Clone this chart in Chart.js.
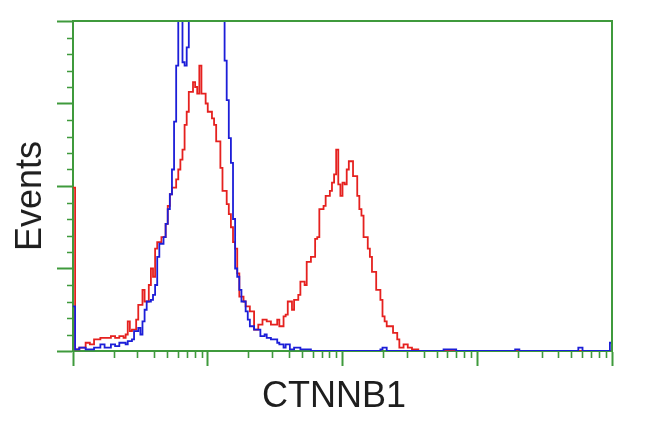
<!DOCTYPE html>
<html>
<head>
<meta charset="utf-8">
<script src="https://cdn.jsdelivr.net/npm/chart.js@4.4.1/dist/chart.umd.min.js"></script>
<style>
  body { margin: 0; background: #fff; }
  #wrap { position: relative; width: 650px; height: 432px; }
  .lbl { position: absolute; font-family: "Liberation Sans", Arial, sans-serif; font-size: 36px; line-height: 1; color: #1e1e1e; white-space: nowrap; }
  #xLabel { left: 334px; top: 395px; transform: translate(-50%, -50%); }
  #yLabel { left: 29px; top: 196px; transform: translate(-50%, -50%) rotate(-90deg); }
</style>
</head>
<body>
<div id="wrap">
  <canvas id="histo" width="650" height="432"></canvas>
  <div class="lbl" id="xLabel">CTNNB1</div>
  <div class="lbl" id="yLabel">Events</div>
</div>
<script>
// Histogram data: channel (256 channels over 4 log decades) -> event count
const redChannels = [0,1,3,6,8,10,13,15,18,20,
  22,24,25,26,27,28,30,31,33,34,
  36,37,38,39,40,42,44,45,46,47,
  49,50,51,52,53,54,55,57,58,59,
  60,61,63,64,66,67,68,70,71,73,
  74,75,76,77,78,79,81,82,84,86,
  88,90,92,94,97,98,100,101,102,104,
  105,107,108,110,111,113,115,116,117,119,
  120,122,123,124,125,126,127,128,129,130,
  131,133,135,136,137,138,140,141,142,144,
  146,147,148,149,152,154,155,157,159,161,
  164,256];
const redCounts = [99,1,2,5,4,7,8,8,9,8,
  9,8,10,18,12,13,19,28,37,30,
  40,50,45,62,66,69,77,88,95,99,
  104,110,116,122,137,145,157,163,160,156,
  173,156,150,145,141,137,127,111,97,89,
  83,75,66,62,47,33,30,27,24,13,
  16,19,18,16,19,15,21,22,30,25,
  31,34,42,40,54,57,68,69,86,88,
  94,97,102,107,122,101,94,102,101,110,
  115,106,94,86,82,69,62,57,48,37,
  31,21,18,15,11,7,2,4,2,1,
  0,0];

const blueChannels = [0,1,3,6,8,10,13,15,18,20,
  22,25,26,28,29,31,32,33,34,35,
  37,38,39,40,41,43,44,45,46,47,
  48,49,50,52,53,54,55,57,59,61,
  63,65,67,69,71,72,73,74,75,76,
  77,78,79,80,82,83,84,86,89,91,
  92,94,97,98,100,101,103,105,108,110,
  113,146,147,149,176,180,182,210,212,240,
  242,255,256];
const blueCounts = [27,1,2,1,1,2,4,2,4,3,
  5,4,6,7,12,14,10,18,25,30,
  31,34,40,57,65,69,77,86,95,110,
  139,173,240,175,173,184,250,260,245,255,
  250,240,235,225,200,176,152,129,114,80,
  50,45,37,30,24,19,15,13,9,10,
  8,7,5,4,2,4,1,2,1,1,
  0,1,2,0,1,1,0,1,0,2,
  0,5,5];

// Axis ticks
const decadeChannels = [0, 64, 128, 192, 256];
const yMajorTicks = [0, 50, 100, 150, 200];
const yMinorTicks = [10,20,30,40, 60,70,80,90, 110,120,130,140, 160,170,180,190];

const GREEN = "#3f9a3c";

function toPoints(xs, ys) {
  return xs.map((x, i) => ({ x: x, y: ys[i] }));
}

// minor log ticks (2..9 inside each decade)
const xMinorTicks = [];
for (let d = 0; d < 4; d++) {
  for (let k = 2; k <= 9; k++) xMinorTicks.push(decadeChannels[d] + 64 * Math.log10(k));
}

// Frame on top/right + minor tick marks
const framePlugin = {
  id: "frame",
  afterDraw(chart) {
    const { ctx, chartArea: a, scales: { x, y } } = chart;
    ctx.save();
    ctx.strokeStyle = GREEN;
    ctx.lineWidth = 2;
    ctx.beginPath();
    ctx.moveTo(a.left, a.top);
    ctx.lineTo(a.right, a.top);
    ctx.lineTo(a.right, a.bottom);
    ctx.stroke();

    ctx.lineWidth = 1.6;
    ctx.beginPath();
    yMinorTicks.forEach(v => {
      const py = Math.round(y.getPixelForValue(v)) + 0.5;
      ctx.moveTo(a.left - 6, py);
      ctx.lineTo(a.left, py);
    });
    xMinorTicks.forEach(v => {
      const px = Math.round(x.getPixelForValue(v)) + 0.5;
      ctx.moveTo(px, a.bottom);
      ctx.lineTo(px, a.bottom + 7);
    });
    ctx.stroke();
    ctx.restore();
  }
};

new Chart(document.getElementById("histo"), {
  type: "line",
  data: {
    datasets: [
      {
        label: "Control",
        data: toPoints(blueChannels, blueCounts),
        borderColor: "#1c1ed8",
        borderWidth: 1.8,
        pointRadius: 0,
        stepped: "before",
        fill: false
      },
      {
        label: "CTNNB1",
        data: toPoints(redChannels, redCounts),
        borderColor: "#e5211f",
        borderWidth: 1.8,
        pointRadius: 0,
        stepped: "before",
        fill: false
      }
    ]
  },
  options: {
    responsive: false,
    animation: false,
    layout: { padding: { left: 57, right: 38, top: 21, bottom: 66 } },
    plugins: { legend: { display: false }, tooltip: { enabled: false } },
    scales: {
      x: {
        type: "linear",
        min: 0,
        max: 256,
        afterBuildTicks: scale => { scale.ticks = decadeChannels.map(v => ({ value: v })); },
        ticks: { display: false },
        grid: { drawOnChartArea: false, tickLength: 15, tickColor: GREEN, tickWidth: 2 },
        border: { color: GREEN, width: 2 }
      },
      y: {
        min: 0,
        max: 200,
        afterBuildTicks: scale => { scale.ticks = yMajorTicks.map(v => ({ value: v })); },
        ticks: { display: false },
        grid: { drawOnChartArea: false, tickLength: 16, tickColor: GREEN, tickWidth: 2 },
        border: { color: GREEN, width: 2 }
      }
    }
  },
  plugins: [framePlugin]
});
</script>
</body>
</html>
